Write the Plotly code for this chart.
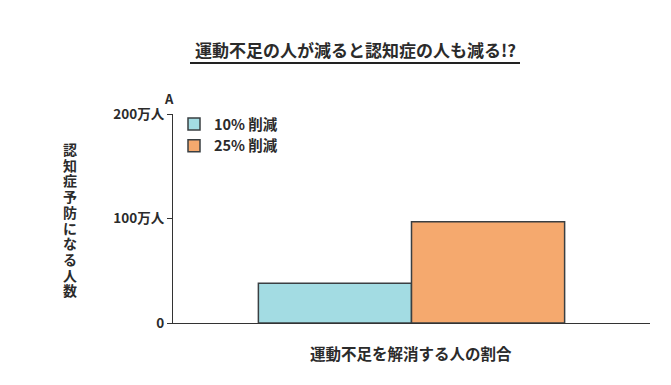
import plotly.graph_objects as go

category = ["運動不足を解消する人の割合"]
series_names = ["10% 削減", "25% 削減"]
values_10 = [38]   # 万人
values_25 = [97]   # 万人
tick_vals = [0, 100, 200]
tick_text = ["0", "100万人", "200万人"]
y_title = "認知症予防になる人数"
chart_title = "運動不足の人が減ると認知症の人も減る!?"

FONT = "Noto Sans CJK JP"
DARK = "#2b2b2b"
L, R, T, B = 173, 21, 114, 62
W, H = 671, 385
PW, PH = W - L - R, H - T - B


def px_x(x):
    return (x - L) / PW


def px_y(y):
    return 1 - (y - T) / PH


fig = go.Figure()
fig.add_trace(go.Bar(x=category, y=values_10, name=series_names[0],
                     marker=dict(color="#a3dce3", line=dict(color="#3a3f42", width=1.5))))
fig.add_trace(go.Bar(x=category, y=values_25, name=series_names[1],
                     marker=dict(color="#f5a96e", line=dict(color="#3a3f42", width=1.5))))

fig.update_layout(
    width=W, height=H,
    margin=dict(l=L, r=R, t=T, b=B),
    paper_bgcolor="white", plot_bgcolor="white",
    barmode="group", bargap=0.358, bargroupgap=0,
    font=dict(family=FONT, color=DARK),
    showlegend=True,
    legend=dict(x=px_x(174), y=px_y(108), xanchor="left", yanchor="top",
                font=dict(size=14.5, family=FONT, color=DARK, weight="bold"),
                bgcolor="rgba(0,0,0,0)", tracegroupgap=4, itemwidth=30),
    xaxis=dict(showticklabels=False, ticks="", showline=True, linecolor="#333",
               linewidth=1.2, showgrid=False, zeroline=False, fixedrange=True),
    yaxis=dict(range=[0, 200], tickvals=tick_vals, ticktext=tick_text,
               ticks="outside", ticklen=5, tickcolor="#333", tickwidth=1.2,
               showline=True, linecolor="#333", linewidth=1.2,
               showgrid=False, zeroline=False,
               tickfont=dict(size=13.5, family=FONT, color=DARK, weight="bold")),
)

# Title with underline
fig.add_annotation(xref="paper", yref="paper", x=px_x(355), y=px_y(50),
                   text=chart_title, showarrow=False,
                   font=dict(size=17, family=FONT, color=DARK, weight="bold"),
                   xanchor="center", yanchor="middle")
fig.add_shape(type="line", xref="paper", yref="paper",
              x0=px_x(190), x1=px_x(520), y0=px_y(63), y1=px_y(63),
              line=dict(color="#222", width=2))

# "A" above axis
fig.add_annotation(xref="paper", yref="paper", x=px_x(169), y=px_y(99),
                   text="A", showarrow=False,
                   font=dict(size=13, family=FONT, color=DARK, weight="bold"),
                   xanchor="center", yanchor="middle")

# Vertical y-axis title, one character per row (tight vertical setting as in the reference)
for i, ch in enumerate(y_title):
    fig.add_annotation(xref="paper", yref="paper", x=px_x(70), y=px_y(149 + i * 15.7),
                       text=ch, showarrow=False,
                       font=dict(size=14, family=FONT, color=DARK, weight="bold"),
                       xanchor="center", yanchor="middle")

# x-axis title
fig.add_annotation(xref="paper", yref="paper", x=px_x(411), y=px_y(353),
                   text=category[0], showarrow=False,
                   font=dict(size=15.5, family=FONT, color=DARK, weight="bold"),
                   xanchor="center", yanchor="middle")

fig.write_html("out.html")
